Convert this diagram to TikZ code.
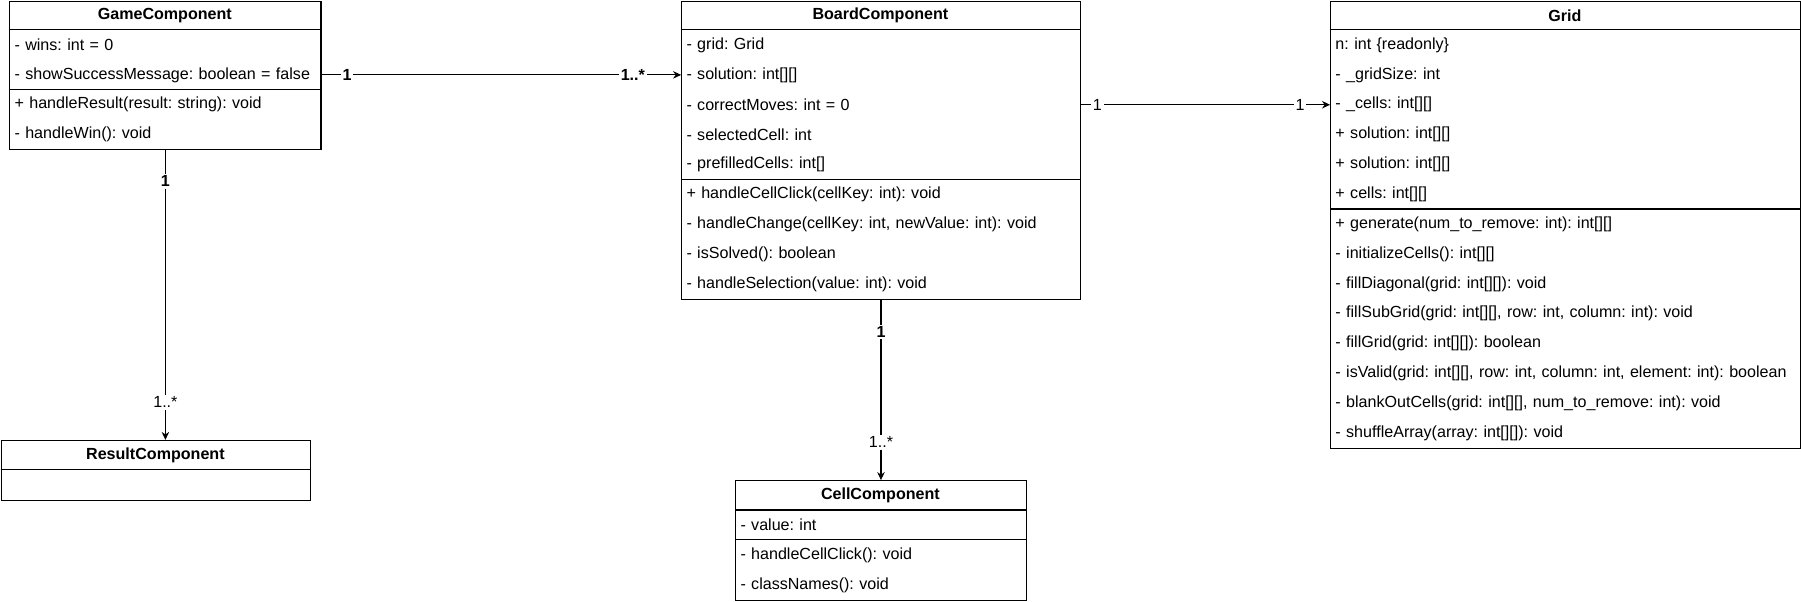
\documentclass[tikz,border=0pt]{standalone}
\usepackage{fontspec}
\setmainfont{Liberation Sans}
\usetikzlibrary{arrows.meta}
\begin{document}
\frenchspacing
\begin{tikzpicture}[x=1pt,y=-1pt,
  font=\fontsize{14}{16}\selectfont\frenchspacing,
  box/.style={draw, line width=1pt, inner sep=0pt, anchor=north west},
  hdr/.style={font=\fontsize{14}{16}\selectfont\bfseries, anchor=center, inner sep=0pt},
  row/.style={anchor=north west, inner xsep=4.5pt, inner ysep=0pt, minimum height=26pt, text width=#1, align=left},
  sepline/.style={line width=1pt},
  assoc/.style={line width=1pt, -{Stealth[length=7pt,width=6.5pt]}},
  lbl/.style={fill=white, inner sep=1.5pt, font=\fontsize{14}{16}\selectfont},
  lblb/.style={fill=white, inner sep=1.5pt, font=\fontsize{14}{16}\selectfont\bfseries}
]
\useasboundingbox (0,0) rectangle (1568,523.25);

% ---------------- GameComponent ----------------
\node[box, minimum width=271pt, minimum height=129pt] (game) at (8,1) {};
\node[hdr] (gameH) at (143.5,13.5) {GameComponent};
\draw[sepline] (game.west |- 0,26) -- (game.east |- 0,26);
\node[row=262pt] (g1) at (8,26)  {- wins: int = 0};
\node[row=262pt] (g2) at (8,52)  {- showSuccessMessage: boolean = false};
\draw[sepline] (game.west |- 0,78) -- (game.east |- 0,78);
\node[row=262pt] (g3) at (8,78)  {+ handleResult(result: string): void};
\node[row=262pt] (g4) at (8,104) {- handleWin(): void};

% ---------------- BoardComponent ----------------
\node[box, minimum width=347pt, minimum height=259pt] (board) at (593,1) {};
\node[hdr] (boardH) at (766.5,13.5) {BoardComponent};
\draw[sepline] (board.west |- 0,26) -- (board.east |- 0,26);
\node[row=338pt] (b1) at (593,26)  {- grid: Grid};
\node[row=338pt] (b2) at (593,52)  {- solution: int[][]};
\node[row=338pt] (b3) at (593,78)  {- correctMoves: int = 0};
\node[row=338pt] (b4) at (593,104) {- selectedCell: int};
\node[row=338pt] (b5) at (593,130) {- prefilledCells: int[]};
\draw[sepline] (board.west |- 0,156) -- (board.east |- 0,156);
\node[row=338pt] (b6) at (593,156) {+ handleCellClick(cellKey: int): void};
\node[row=338pt] (b7) at (593,182) {- handleChange(cellKey: int, newValue: int): void};
\node[row=338pt] (b8) at (593,208) {- isSolved(): boolean};
\node[row=338pt] (b9) at (593,234) {- handleSelection(value: int): void};

% ---------------- Grid ----------------
\node[box, minimum width=409pt, minimum height=389pt] (grid) at (1158,1) {};
\node[hdr] (gridH) at (1362.5,13.5) {Grid};
\draw[sepline] (grid.west |- 0,26) -- (grid.east |- 0,26);
\node[row=400pt] (r1) at (1158,26)  {n: int \{readonly\}};
\node[row=400pt] (r2) at (1158,52)  {- \_gridSize: int};
\node[row=400pt] (r3) at (1158,78)  {- \_cells: int[][]};
\node[row=400pt] (r4) at (1158,104) {+ solution: int[][]};
\node[row=400pt] (r5) at (1158,130) {+ solution: int[][]};
\node[row=400pt] (r6) at (1158,156) {+ cells: int[][]};
\draw[sepline] (grid.west |- 0,182) -- (grid.east |- 0,182);
\node[row=400pt] (r7)  at (1158,182) {+ generate(num\_to\_remove: int): int[][]};
\node[row=400pt] (r8)  at (1158,208) {- initializeCells(): int[][]};
\node[row=400pt] (r9)  at (1158,234) {- fillDiagonal(grid: int[][]): void};
\node[row=400pt] (r10) at (1158,260) {- fillSubGrid(grid: int[][], row: int, column: int): void};
\node[row=400pt] (r11) at (1158,286) {- fillGrid(grid: int[][]): boolean};
\node[row=400pt] (r12) at (1158,312) {- isValid(grid: int[][], row: int, column: int, element: int): boolean};
\node[row=400pt] (r13) at (1158,338) {- blankOutCells(grid: int[][], num\_to\_remove: int): void};
\node[row=400pt] (r14) at (1158,364) {- shuffleArray(array: int[][]): void};

% ---------------- ResultComponent ----------------
\node[box, minimum width=269.5pt, minimum height=52pt] (result) at (0.6,383) {};
\node[hdr] (resultH) at (135.3,396) {ResultComponent};
\draw[sepline] (result.west |- 0,409) -- (result.east |- 0,409);

% ---------------- CellComponent ----------------
\node[box, minimum width=253pt, minimum height=104pt] (cell) at (640,418) {};
\node[hdr] (cellH) at (766.5,431) {CellComponent};
\draw[sepline] (cell.west |- 0,444) -- (cell.east |- 0,444);
\node[row=244pt] (c1) at (640,444) {- value: int};
\draw[sepline] (cell.west |- 0,470) -- (cell.east |- 0,470);
\node[row=244pt] (c2) at (640,470) {- handleCellClick(): void};
\node[row=244pt] (c3) at (640,496) {- classNames(): void};

% ---------------- Connectors ----------------
\draw[assoc] (g2.east) -- node[lblb,pos=0.073]{1} node[lblb,pos=0.866]{1..*} (b2.west);
\draw[assoc] (b3.east) -- node[lbl,pos=0.069]{1} node[lbl,pos=0.88]{1} (r3.west);
\draw[assoc] (game.south) -- node[lblb,pos=0.107]{1} node[lbl,pos=0.87]{1..*} (game.south |- result.north);
\draw[assoc] (board.south) -- node[lblb,pos=0.178]{1} node[lbl,pos=0.79]{1..*} (cell.north);
\end{tikzpicture}
\end{document}
